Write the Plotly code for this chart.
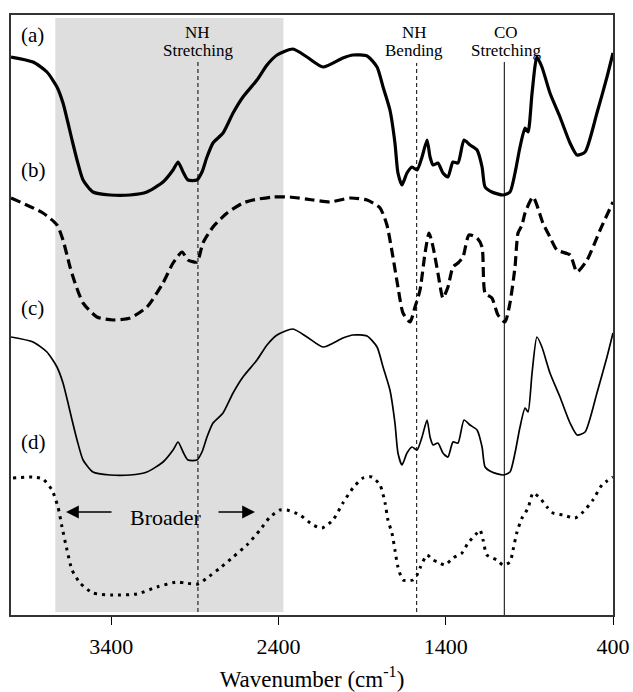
import plotly.graph_objects as go

# ---- data ----
wn_a = [4000, 3868, 3785, 3725, 3689, 3659, 3635, 3605, 3569, 3510, 3408, 3288, 3187, 3091, 3031, 3001,
        2971, 2942, 2888, 2858, 2828, 2792, 2732, 2672, 2613, 2529, 2469, 2409, 2314, 2230, 2134, 2015,
        1955, 1871, 1811, 1775, 1734, 1704, 1686, 1662, 1632, 1602, 1572, 1542, 1512, 1494, 1476, 1447,
        1417, 1387, 1357, 1327, 1291, 1255, 1213, 1183, 1165, 1124, 1058, 1016, 986, 956, 926, 908,
        884, 855, 825, 777, 717, 657, 615, 567, 496, 436, 400]
val_a = [558, 553, 543, 528, 512, 492, 475, 455, 435, 423, 420, 420, 423, 433, 445, 453,
         443, 435, 435, 443, 458, 472, 482, 502, 518, 535, 550, 560, 566, 558, 548, 557,
         560, 559, 548, 528, 505, 472, 442, 430, 442, 448, 445, 458, 475, 458, 450, 452,
         442, 438, 453, 452, 475, 470, 465, 448, 428, 423, 420, 423, 442, 468, 487, 483,
         522, 558, 548, 522, 498, 472, 460, 463, 502, 538, 562]

wn_b = [4000, 3809, 3725, 3689, 3647, 3617, 3569, 3486, 3390, 3288, 3187, 3091, 3031, 2977, 2942, 2888,
        2852, 2792, 2708, 2613, 2553, 2433, 2332, 2194, 2092, 1973, 1871, 1793, 1752, 1716, 1686, 1656,
        1614, 1584, 1554, 1524, 1500, 1476, 1447, 1417, 1387, 1357, 1327, 1297, 1261, 1213, 1183, 1165,
        1124, 1088, 1046, 1016, 986, 968, 944, 926, 878, 819, 777, 735, 657, 615, 555, 477, 400]
val_b = [417, 402, 390, 375, 348, 332, 312, 298, 295, 297, 308, 332, 352, 363, 355, 353,
         372, 388, 402, 412, 415, 418, 418, 415, 413, 417, 415, 407, 390, 358, 328, 302,
         293, 308, 325, 362, 382, 368, 342, 317, 328, 348, 352, 358, 380, 377, 368, 322,
         317, 300, 293, 312, 348, 382, 390, 402, 418, 392, 378, 365, 360, 343, 355, 385, 413]

wn_c = wn_a
val_c = [278, 273, 263, 248, 232, 212, 195, 175, 155, 143, 140, 140, 143, 153, 165, 173,
         163, 155, 155, 163, 178, 192, 202, 222, 238, 255, 270, 280, 286, 278, 268, 277,
         280, 279, 268, 248, 225, 192, 162, 150, 162, 168, 165, 178, 195, 178, 170, 172,
         162, 158, 173, 172, 195, 190, 185, 168, 148, 143, 140, 143, 162, 188, 207, 203,
         242, 278, 268, 242, 218, 192, 180, 183, 222, 258, 282]

wn_d = [3988, 3868, 3809, 3755, 3719, 3695, 3665, 3635, 3587, 3510, 3390, 3247, 3127, 3007, 2959, 2882,
        2828, 2750, 2672, 2589, 2511, 2451, 2391, 2350, 2272, 2194, 2140, 2075, 2015, 1955, 1895, 1841,
        1793, 1763, 1746, 1722, 1704, 1686, 1656, 1596, 1572, 1554, 1512, 1476, 1447, 1405, 1357, 1303,
        1267, 1213, 1195, 1177, 1154, 1094, 1058, 1016, 998, 974, 944, 908, 878, 837, 795, 759,
        699, 627, 579, 520, 466, 400]
val_d = [137, 138, 136, 125, 108, 88, 65, 45, 32, 22, 20, 21, 28, 33, 32, 31,
         37, 47, 58, 70, 85, 98, 105, 105, 100, 90, 87, 95, 112, 127, 137, 138,
         130, 112, 95, 82, 65, 48, 35, 35, 40, 47, 60, 55, 53, 50, 57, 62,
         72, 82, 85, 75, 60, 55, 50, 53, 65, 83, 97, 107, 122, 117, 108, 102,
         100, 97, 103, 115, 130, 138]

tick_vals = [3400, 2400, 1400, 400]
tick_text = ["3400", "2400", "1400", "400"]
series_labels = ["(a)", "(b)", "(c)", "(d)"]
label_y = [580, 445, 307, 173]
band_wn = [2882, 1574, 1050]
shade_range = [3735, 2371]

SERIF = "Liberation Serif, Times New Roman, serif"

fig = go.Figure()
fig.add_trace(go.Scatter(x=wn_a, y=val_a, mode="lines",
                         line=dict(color="black", width=3.2, shape="spline", smoothing=0.6)))
fig.add_trace(go.Scatter(x=wn_b, y=val_b, mode="lines",
                         line=dict(color="black", width=3.2, dash="10px,5px", shape="spline", smoothing=0.6)))
fig.add_trace(go.Scatter(x=wn_c, y=val_c, mode="lines",
                         line=dict(color="black", width=1.7, shape="spline", smoothing=0.6)))
fig.add_trace(go.Scatter(x=wn_d, y=val_d, mode="lines",
                         line=dict(color="black", width=3, dash="3px,5px", shape="spline", smoothing=0.6)))

# gray shaded region
fig.add_shape(type="rect", xref="x", yref="y", x0=shade_range[0], x1=shade_range[1], y0=3, y1=597,
              fillcolor="#dedede", line=dict(width=0), layer="below")
# band marker lines
fig.add_shape(type="line", xref="x", yref="y", x0=band_wn[0], x1=band_wn[0], y0=3, y1=555,
              line=dict(color="black", width=1, dash="4px,3px"), layer="below")
fig.add_shape(type="line", xref="x", yref="y", x0=band_wn[1], x1=band_wn[1], y0=3, y1=552,
              line=dict(color="black", width=1, dash="4px,3px"), layer="below")
fig.add_shape(type="line", xref="x", yref="y", x0=band_wn[2], x1=band_wn[2], y0=0, y1=553,
              line=dict(color="black", width=1), layer="below")

ann = []
for lab, ly in zip(series_labels, label_y):
    ann.append(dict(x=3950, y=ly, xref="x", yref="y", text=lab, showarrow=False,
                    xanchor="left", yanchor="middle", font=dict(family=SERIF, size=21, color="black")))

def two_line(xv, top, bottom):
    ann.append(dict(x=xv, y=583, xref="x", yref="y", text=top, showarrow=False,
                    xanchor="center", yanchor="middle", font=dict(family=SERIF, size=17, color="black")))
    ann.append(dict(x=xv, y=565, xref="x", yref="y", text=bottom, showarrow=False,
                    xanchor="center", yanchor="middle", font=dict(family=SERIF, size=17, color="black")))

two_line(band_wn[0], "NH", "Stretching")
two_line(1590, "NH", "Bending")
two_line(band_wn[2] - 10, "CO", "Stretching")

ann.append(dict(x=3073, y=98, xref="x", yref="y", text="Broader", showarrow=False,
                xanchor="center", yanchor="middle", font=dict(family=SERIF, size=22, color="black")))
ann.append(dict(x=3671, y=103, ax=3390, ay=103, xref="x", yref="y", axref="x", ayref="y",
                text="", showarrow=True, arrowhead=2, arrowsize=1.6, arrowwidth=1.6, arrowcolor="black"))
ann.append(dict(x=2541, y=103, ax=2768, ay=103, xref="x", yref="y", axref="x", ayref="y",
                text="", showarrow=True, arrowhead=2, arrowsize=1.6, arrowwidth=1.6, arrowcolor="black"))

fig.update_layout(
    width=633, height=692,
    margin=dict(l=11, r=20, t=15, b=77, autoexpand=False),
    paper_bgcolor="white", plot_bgcolor="white",
    showlegend=False,
    annotations=ann,
    font=dict(family=SERIF, color="black"),
)
fig.update_xaxes(range=[4000, 400], tickvals=tick_vals, ticktext=tick_text,
                 ticks="outside", ticklen=8, tickwidth=1.2, tickcolor="black",
                 ticklabelstandoff=3,
                 showline=True, linecolor="#333333", linewidth=1.5, mirror=True,
                 showgrid=False, zeroline=False, automargin=False,
                 tickfont=dict(family=SERIF, size=22, color="black"),
                 title=dict(text="Wavenumber (cm<sup>-1</sup>)", standoff=16,
                            font=dict(family=SERIF, size=23, color="black")))
fig.update_yaxes(range=[0, 600], showticklabels=False, ticks="",
                 showline=True, linecolor="#333333", linewidth=1.5, mirror=True,
                 showgrid=False, zeroline=False, automargin=False)

fig.write_html("out.html")
